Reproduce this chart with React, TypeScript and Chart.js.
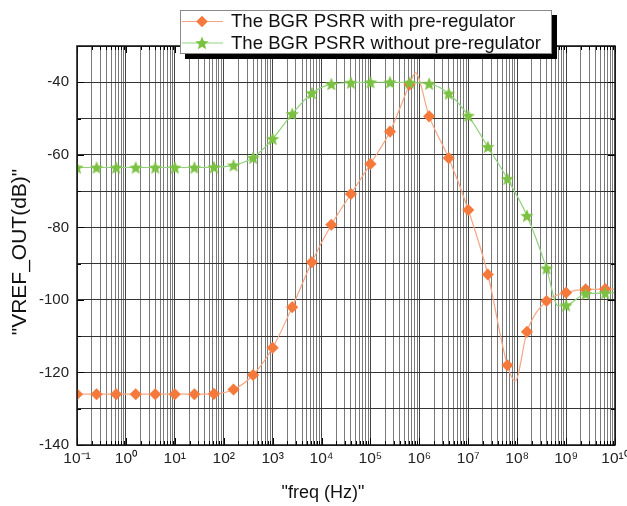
import React, { useEffect, useRef } from 'react';
import { Chart, registerables } from 'chart.js';

Chart.register(...registerables);

// ---- data ----
const freqHz = [0.1, 0.2512, 0.631, 1.585, 3.981, 10, 25.12, 63.1, 158.5, 398.1, 1000, 2512, 6310, 15850, 39810, 1e5, 2.512e5, 6.31e5, 1.585e6, 3.981e6, 1e7, 2.512e7, 6.31e7, 1.585e8, 3.981e8, 1e9, 2.512e9, 6.31e9];
const withPreRegulator = [-126.0, -126.0, -126.0, -126.0, -126.0, -126.0, -126.0, -125.9, -124.7, -120.7, -113.2, -102.0, -89.6, -79.3, -70.8, -62.5, -53.6, -40.6, -49.4, -60.9, -75.2, -93.0, -118.0, -108.8, -100.3, -98.0, -97.1, -97.0];
const withoutPreRegulator = [-63.5, -63.5, -63.5, -63.5, -63.5, -63.5, -63.5, -63.4, -62.9, -60.8, -55.6, -48.7, -43.0, -40.5, -40.1, -40.0, -40.0, -40.1, -40.4, -43.1, -49.2, -57.8, -66.6, -76.8, -91.3, -101.5, -98.3, -98.1];
// curve-only points between markers (peak, dip, knee, right end)
const withPreRegulatorCurveFreq = [8.3e5, 9.1e7, 1e10];
const withPreRegulatorCurve = [-37.4, -122.4, -97.0];
const withoutPreRegulatorCurveFreq = [6.8e8, 1e10];
const withoutPreRegulatorCurve = [-101.6, -98.0];

const seriesNames = ['The BGR PSRR with pre-regulator', 'The BGR PSRR without pre-regulator'];
const xTickLabels = ['10\u207B\u00B9', '10\u2070', '10\u00B9', '10\u00B2', '10\u00B3', '10\u2074', '10\u2075', '10\u2076', '10\u2077', '10\u2078', '10\u2079', '10\u00B9\u2070'];
const xDecades = [-1, 0, 1, 2, 3, 4, 5, 6, 7, 8, 9];
const xMantissas = [1, 2, 3, 4, 5, 6, 7, 8, 9];
const yMin = -140;
const yMax = -30;
const yStep = 10;
const yLabelEvery = 20;
const xTitle = '"freq (Hz)"';
const yTitle = '"VREF_OUT(dB)"';

const ORANGE = '#f5793a';
const ORANGE_LINE = '#f7a683';
const GREEN = '#7cc242';
const GREEN_LINE = '#92d27e';
const FONT = '"Liberation Sans", Arial, Helvetica, sans-serif';

type P = { x: number; y: number; m: boolean };

function buildPoints(fx: number[], fy: number[], ex: number[], ey: number[]): P[] {
  const pts: P[] = fx.map((x, i) => ({ x, y: fy[i], m: true }))
    .concat(ex.map((x, i) => ({ x, y: ey[i], m: false })));
  pts.sort((a, b) => a.x - b.x);
  return pts;
}

function isDecade(v: number) {
  const l = Math.log10(v);
  return Math.abs(l - Math.round(l)) < 1e-6;
}

function makeStar(color: string, outer: number, inner: number) {
  const size = Math.ceil(outer * 2) + 2;
  const c = document.createElement('canvas');
  c.width = size;
  c.height = size;
  const g = c.getContext('2d')!;
  g.beginPath();
  for (let i = 0; i < 10; i++) {
    const r = i % 2 ? inner : outer;
    const a = -Math.PI / 2 + (i * Math.PI) / 5;
    g.lineTo(size / 2 + r * Math.cos(a), size / 2 + 0.6 + r * Math.sin(a));
  }
  g.closePath();
  g.fillStyle = color;
  g.fill();
  return c;
}

function diamond(ctx: CanvasRenderingContext2D, x: number, y: number, r: number, color: string) {
  ctx.beginPath();
  ctx.moveTo(x, y - r);
  ctx.lineTo(x + r, y);
  ctx.lineTo(x, y + r);
  ctx.lineTo(x - r, y);
  ctx.closePath();
  ctx.fillStyle = color;
  ctx.fill();
}

export default function App() {
  const ref = useRef<HTMLCanvasElement>(null);

  useEffect(() => {
    const star = makeStar(GREEN, 7, 3.1);

    const framePlugin = {
      id: 'frame',
      afterDraw(chart: any) {
        const { ctx, chartArea: a, scales } = chart;
        const xs = scales.x;
        const ys = scales.y;
        ctx.save();
        // inward tick marks on all four sides
        ctx.strokeStyle = '#000';
        ctx.lineWidth = 1;
        ctx.beginPath();
        xs.ticks.forEach((t: any) => {
          const px = Math.round(xs.getPixelForValue(t.value)) + 0.5;
          const len = isDecade(t.value) ? 7 : 4;
          ctx.moveTo(px, a.bottom);
          ctx.lineTo(px, a.bottom - len);
          ctx.moveTo(px, a.top);
          ctx.lineTo(px, a.top + len);
        });
        ys.ticks.forEach((t: any) => {
          const py = Math.round(ys.getPixelForValue(t.value)) + 0.5;
          const len = t.value % yLabelEvery === 0 ? 7 : 4;
          ctx.moveTo(a.left, py);
          ctx.lineTo(a.left + len, py);
          ctx.moveTo(a.right, py);
          ctx.lineTo(a.right - len, py);
        });
        ctx.stroke();
        // frame
        ctx.lineWidth = 1.5;
        ctx.strokeStyle = '#111';
        ctx.strokeRect(a.left, a.top, a.right - a.left, a.bottom - a.top);

        // axis titles
        ctx.fillStyle = '#111';
        ctx.textAlign = 'center';
        ctx.textBaseline = 'middle';
        ctx.font = `18px ${FONT}`;
        ctx.fillText(xTitle, 323, 493);
        ctx.save();
        ctx.translate(20, 252);
        ctx.rotate(-Math.PI / 2);
        ctx.font = `21px ${FONT}`;
        ctx.fillText(yTitle, 0, 0);
        ctx.restore();

        // legend with drop shadow
        const lx = 180, ly = 10, lw = 372, lh = 44;
        ctx.fillStyle = '#000';
        ctx.fillRect(lx + 5, ly + 5, lw, lh);
        ctx.fillStyle = '#fff';
        ctx.fillRect(lx, ly, lw, lh);
        ctx.strokeStyle = '#8a8a8a';
        ctx.lineWidth = 1;
        ctx.strokeRect(lx + 0.5, ly + 0.5, lw - 1, lh - 1);
        const rows = [21.5, 43];
        const lineCols = [ORANGE_LINE, GREEN_LINE];
        rows.forEach((ry, i) => {
          ctx.strokeStyle = lineCols[i];
          ctx.lineWidth = 1.2;
          ctx.beginPath();
          ctx.moveTo(182, ry);
          ctx.lineTo(223, ry);
          ctx.stroke();
          if (i === 0) diamond(ctx, 202, ry, 5.8, ORANGE);
          else ctx.drawImage(star, 202 - star.width / 2, ry - star.height / 2);
          ctx.fillStyle = '#111';
          ctx.textAlign = 'left';
          ctx.textBaseline = 'middle';
          ctx.font = `18.6px ${FONT}`;
          ctx.fillText(seriesNames[i], 231, ry + 0.5);
        });
        ctx.restore();
      },
    };

    const xTickValues: number[] = [];
    xDecades.forEach((d) => xMantissas.forEach((m) => xTickValues.push(m * Math.pow(10, d))));
    xTickValues.push(Math.pow(10, xDecades[xDecades.length - 1] + 1));

    const orangePts = buildPoints(freqHz, withPreRegulator, withPreRegulatorCurveFreq, withPreRegulatorCurve);
    const greenPts = buildPoints(freqHz, withoutPreRegulator, withoutPreRegulatorCurveFreq, withoutPreRegulatorCurve);

    const chart = new Chart(ref.current!, {
      type: 'line',
      data: {
        datasets: [
          {
            label: seriesNames[1],
            data: greenPts as any,
            borderColor: GREEN_LINE,
            borderWidth: 1.2,
            pointStyle: star as any,
            pointRadius: (c: any) => (c.raw && c.raw.m ? 7 : 0),
            pointBackgroundColor: GREEN,
            pointBorderColor: GREEN,
            cubicInterpolationMode: 'monotone',
            clip: { left: 0, top: false, right: false, bottom: false } as any,
          },
          {
            label: seriesNames[0],
            data: orangePts as any,
            borderColor: ORANGE_LINE,
            borderWidth: 1.2,
            pointStyle: 'rectRot',
            pointRadius: (c: any) => (c.raw && c.raw.m ? 5.8 : 0),
            pointBackgroundColor: ORANGE,
            pointBorderColor: ORANGE,
            pointBorderWidth: 0.5,
            cubicInterpolationMode: 'monotone',
            clip: { left: 0, top: false, right: false, bottom: false } as any,
          },
        ],
      },
      options: {
        responsive: false,
        animation: false,
        events: [],
        layout: { padding: { left: 0, right: 12, top: 46, bottom: 0 } },
        plugins: {
          legend: { display: false },
          tooltip: { enabled: false },
        },
        scales: {
          x: {
            type: 'logarithmic',
            min: 0.1,
            max: 1e10,
            border: { display: false },
            grid: {
              drawTicks: false,
              tickLength: 0,
              color: (c: any) => (c.tick && isDecade(c.tick.value) ? '#454545' : '#7a7a7a'),
              lineWidth: 1,
            },
            ticks: {
              autoSkip: false,
              maxRotation: 0,
              minRotation: 0,
              padding: 4,
              color: '#222',
              font: { size: 15.5, family: FONT },
              callback: (v: any) => {
                const n = Number(v);
                if (!isDecade(n)) return '';
                return xTickLabels[Math.round(Math.log10(n)) - xDecades[0]];
              },
            },
            afterBuildTicks: (s: any) => {
              s.ticks = xTickValues.map((value) => ({ value }));
            },
            afterFit: (s: any) => {
              s.height = 61;
              s.paddingLeft = 0;
              s.paddingRight = 0;
            },
          },
          y: {
            type: 'linear',
            min: yMin,
            max: yMax,
            border: { display: false },
            grid: {
              drawTicks: false,
              tickLength: 0,
              color: '#333333',
              lineWidth: 1,
            },
            ticks: {
              stepSize: yStep,
              padding: 8,
              color: '#222',
              font: { size: 15, family: FONT },
              callback: (v: any) => (Number(v) % yLabelEvery === 0 && Number(v) < yMax ? String(v) : ''),
            },
            afterFit: (s: any) => {
              s.width = 77;
              s.paddingTop = 0;
              s.paddingBottom = 0;
            },
          },
        },
      },
      plugins: [framePlugin],
    } as any);
    return () => chart.destroy();
  }, []);

  return (
    <div style={{ position: 'absolute', left: 0, top: 0, width: 627, height: 506, background: '#fff' }}>
      <canvas ref={ref} width={627} height={506} style={{ display: 'block' }} />
    </div>
  );
}
